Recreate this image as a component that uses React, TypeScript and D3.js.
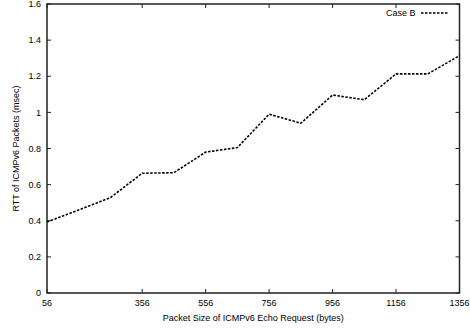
import { useEffect, useRef } from 'react';
import * as d3 from 'd3';

const packetSizes = [56, 156, 256, 356, 456, 556, 656, 756, 856, 956, 1056, 1156, 1256, 1356];
const rttCaseB = [0.393, 0.46, 0.528, 0.663, 0.666, 0.78, 0.805, 0.99, 0.94, 1.096, 1.07, 1.213, 1.213, 1.314];
const xTicks = [56, 356, 556, 756, 956, 1156, 1356];
const yTicks = [0, 0.2, 0.4, 0.6, 0.8, 1, 1.2, 1.4, 1.6];
const seriesName = 'Case B';

const W = 470;
const H = 329;
const FONT = '"Liberation Sans", Arial, sans-serif';

export default function App() {
  const svgRef = useRef<SVGSVGElement>(null);

  useEffect(() => {
    if (!svgRef.current) return;
    const svg = d3.select(svgRef.current);
    svg.selectAll('*').remove();

    const left = 47, right = 459.5, top = 4, bottom = 293;
    const x = d3.scaleLinear().domain([56, 1356]).range([left, right]);
    const y = d3.scaleLinear().domain([0, 1.6]).range([bottom, top]);
    const tickLen = 4;
    const ink = '#222';

    // ticks (inward, all four sides)
    const ticks = svg.append('g').attr('stroke', ink).attr('stroke-width', 1);
    xTicks.forEach((t) => {
      ticks.append('line').attr('x1', x(t)).attr('x2', x(t)).attr('y1', bottom).attr('y2', bottom - tickLen);
      ticks.append('line').attr('x1', x(t)).attr('x2', x(t)).attr('y1', top).attr('y2', top + tickLen);
    });
    yTicks.forEach((t) => {
      ticks.append('line').attr('x1', left).attr('x2', left + tickLen).attr('y1', y(t)).attr('y2', y(t));
      ticks.append('line').attr('x1', right).attr('x2', right - tickLen).attr('y1', y(t)).attr('y2', y(t));
    });

    // frame
    svg.append('rect')
      .attr('x', left).attr('y', top)
      .attr('width', right - left).attr('height', bottom - top)
      .attr('fill', 'none').attr('stroke', ink).attr('stroke-width', 1.5);

    const labelStyle = (sel: d3.Selection<SVGTextElement, unknown, null, undefined>) =>
      sel.attr('font-family', FONT).attr('font-size', 9).attr('fill', '#000');

    xTicks.forEach((t) => {
      svg.append('text').call(labelStyle)
        .attr('x', x(t)).attr('y', 306).attr('text-anchor', 'middle').text(String(t));
    });
    yTicks.forEach((t) => {
      svg.append('text').call(labelStyle)
        .attr('x', 41).attr('y', y(t) + 3.2).attr('text-anchor', 'end').text(String(t));
    });

    svg.append('text').call(labelStyle)
      .attr('x', (left + right) / 2).attr('y', 320.5).attr('text-anchor', 'middle')
      .text('Packet Size of ICMPv6 Echo Request (bytes)');
    svg.append('text').call(labelStyle)
      .attr('transform', `translate(18.5,${(top + bottom) / 2}) rotate(-90)`)
      .attr('text-anchor', 'middle')
      .text('RTT of ICMPv6 Packets (msec)');

    // series
    const line = d3.line<number>()
      .x((_, i) => x(packetSizes[i]))
      .y((d) => y(d));
    svg.append('path')
      .datum(rttCaseB)
      .attr('d', line)
      .attr('fill', 'none')
      .attr('stroke', '#000')
      .attr('stroke-width', 1.6)
      .attr('stroke-dasharray', '2.5,1.5');

    // legend
    svg.append('text').call(labelStyle)
      .attr('x', 415.5).attr('y', 16.2).attr('text-anchor', 'end').text(seriesName);
    svg.append('line')
      .attr('x1', 421).attr('x2', 449).attr('y1', 13).attr('y2', 13)
      .attr('stroke', '#000').attr('stroke-width', 1.6).attr('stroke-dasharray', '2.5,1.5');
  }, []);

  return (
    <svg
      ref={svgRef}
      width={W}
      height={H}
      style={{ position: 'absolute', left: 0, top: 0, background: '#fff' }}
    />
  );
}
